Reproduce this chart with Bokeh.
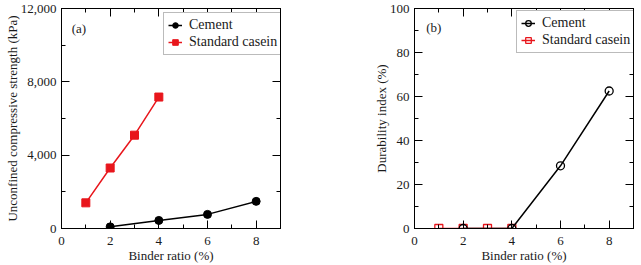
from bokeh.plotting import figure
from bokeh.layouts import row
from bokeh.models import (LinearAxis, SingleIntervalTicker, NumeralTickFormatter,
                          CustomJSTickFormatter, Range1d, Legend, Label)
from bokeh.embed import file_html
from bokeh.resources import INLINE

# ---- data ----
cement_x = [2, 4, 6, 8]
cement_ucs = [90, 440, 770, 1480]
casein_x = [1, 2, 3, 4]
casein_ucs = [1400, 3300, 5090, 7170]

cement_dur = [0, 0, 28.5, 62.5]
casein_dur = [0, 0, 0, 0]

x_label = "Binder ratio (%)"
ya_label = "Unconfined compressive strength (kPa)"
yb_label = "Durability index (%)"
series_names = ["Cement", "Standard casein"]

FONT = "Liberation Serif"
RED = "#e8161c"
TXT = "#1a1a1a"


def style_axis(ax, show_labels=True):
    ax.axis_line_color = "black"
    ax.axis_line_width = 1
    ax.major_tick_in = 8
    ax.major_tick_out = 0
    ax.minor_tick_in = 4
    ax.minor_tick_out = 0
    ax.major_tick_line_color = "black"
    ax.minor_tick_line_color = "black"
    ax.major_label_text_font = FONT
    ax.major_label_text_font_size = "13px"
    ax.major_label_text_color = TXT
    ax.axis_label_text_font = FONT
    ax.axis_label_text_font_size = "13px"
    ax.axis_label_text_font_style = "normal"
    ax.axis_label_text_color = TXT
    if not show_labels:
        ax.formatter = CustomJSTickFormatter(code="return '';")
        ax.major_label_standoff = 0
        ax.axis_label = None


def make_fig(width, left, right, yend, yint, yfmt, ylabel):
    p = figure(width=width, height=265, output_backend="svg", toolbar_location=None,
               x_range=Range1d(0, 9), y_range=Range1d(0, yend),
               min_border_left=left, min_border_right=right,
               min_border_top=8, min_border_bottom=37)
    p.grid.visible = False
    p.outline_line_color = "black"
    p.background_fill_color = "white"
    p.border_fill_color = "white"
    xt = SingleIntervalTicker(interval=2, num_minor_ticks=2)
    yt = SingleIntervalTicker(interval=yint, num_minor_ticks=2)
    p.xaxis.ticker = xt
    p.yaxis.ticker = yt
    if yfmt:
        p.yaxis.formatter = NumeralTickFormatter(format=yfmt)
    p.xaxis.axis_label = x_label
    p.yaxis.axis_label = ylabel
    style_axis(p.xaxis[0])
    style_axis(p.yaxis[0])
    p.xaxis.major_label_standoff = 8
    p.xaxis.axis_label_standoff = 0
    p.yaxis.major_label_standoff = 5
    p.yaxis.axis_label_standoff = -2
    top = LinearAxis(ticker=SingleIntervalTicker(interval=2, num_minor_ticks=2))
    rgt = LinearAxis(ticker=SingleIntervalTicker(interval=yint, num_minor_ticks=2))
    style_axis(top, False)
    style_axis(rgt, False)
    p.add_layout(top, "above")
    p.add_layout(rgt, "right")
    return p


# ---- (a) ----
pa = make_fig(320, 61, 40, 12000, 4000, "0,0", ya_label)
l1 = pa.line(cement_x, cement_ucs, line_color="black", line_width=1.5)
s1 = pa.scatter(cement_x, cement_ucs, marker="circle", size=8,
                fill_color="black", line_color="black")
l2 = pa.line(casein_x, casein_ucs, line_color=RED, line_width=1.5)
s2 = pa.scatter(casein_x, casein_ucs, marker="square", size=8,
                fill_color=RED, line_color=RED)
pa.add_layout(Label(x=0.42, y=10900, text="(a)", text_font=FONT, text_font_size="13px",
                    text_baseline="middle", text_color=TXT))

# ---- (b) ----
pb = make_fig(321, 94, 8, 100, 20, None, yb_label)
l4 = pb.line(casein_x, casein_dur, line_color=RED, line_width=1.5)
s4 = pb.scatter(casein_x, casein_dur, marker="square", size=8,
                fill_color=None, line_color=RED, line_width=1.3)
l3 = pb.line(cement_x, cement_dur, line_color="black", line_width=1.5)
s3 = pb.scatter(cement_x, cement_dur, marker="circle", size=8,
                fill_color=None, line_color="black", line_width=1.3)
pb.add_layout(Label(x=0.48, y=91.4, text="(b)", text_font=FONT, text_font_size="13px",
                    text_baseline="middle", text_color=TXT))


def add_legend(p, items, loc):
    lg = Legend(items=items, location=loc)
    lg.label_text_font = FONT
    lg.label_text_font_size = "14px"
    lg.label_text_color = TXT
    lg.glyph_width = 14
    lg.glyph_height = 14
    lg.label_height = 14
    lg.label_standoff = 7
    lg.spacing = 1
    lg.padding = 4
    lg.margin = 0
    lg.border_line_color = "#777777"
    lg.border_line_width = 1
    lg.background_fill_alpha = 1
    p.add_layout(lg, "center")


add_legend(pa, [(series_names[0], [l1, s1]), (series_names[1], [l2, s2])], (102, 173))
add_legend(pb, [(series_names[0], [l3, s3]), (series_names[1], [l4, s4])], (102, 175))

layout = row(pa, pb, spacing=0)
open("out.html", "w").write(file_html(layout, INLINE))
